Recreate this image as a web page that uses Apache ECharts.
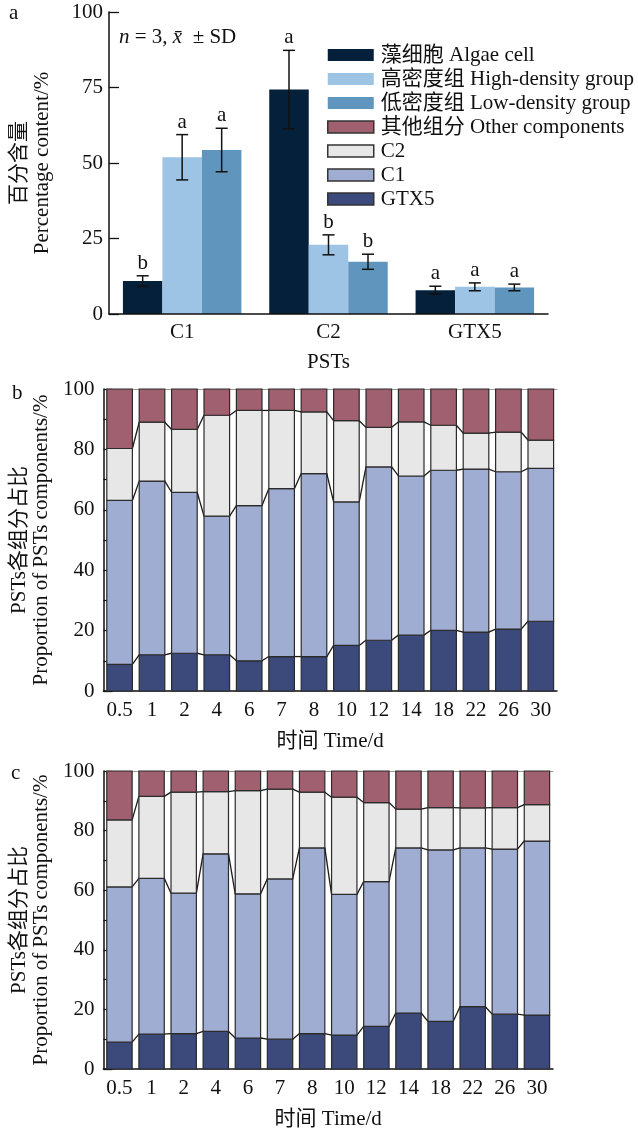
<!DOCTYPE html>
<html>
<head>
<meta charset="utf-8">
<script src="https://cdn.jsdelivr.net/npm/echarts@6/dist/echarts.min.js"></script>
<style>html,body{margin:0;padding:0;background:#fff;}#main{width:638px;height:1131px;}</style>
</head>
<body>
<div id="main"></div>
<script>
// ---------- Panel a data ----------
const pstCategories = ['C1', 'C2', 'GTX5'];
const algaeMean = [10.9, 74.3, 7.9];
const algaeSD = [1.75, 13.0, 1.3];
const algaeLetters = ['b', 'a', 'a'];
const highMean = [51.9, 22.9, 9.0];
const highSD = [7.5, 3.3, 1.3];
const highLetters = ['a', 'b', 'a'];
const lowMean = [54.3, 17.3, 8.8];
const lowSD = [7.2, 2.5, 1.1];
const lowLetters = ['a', 'b', 'a'];

// ---------- Panel b / c data ----------
const timeLabels = ['0.5', '1', '2', '4', '6', '7', '8', '10', '12', '14', '18', '22', '26', '30'];
const bGTX5 = [8.8, 12.0, 12.5, 12.0, 10.0, 11.4, 11.4, 15.1, 16.8, 18.5, 20.1, 19.5, 20.5, 23.1];
const bC1 = [54.3, 57.5, 53.3, 45.9, 51.4, 55.6, 60.6, 47.5, 57.4, 52.7, 53.0, 54.0, 52.1, 50.6];
const bC2 = [17.2, 19.5, 20.8, 33.4, 31.5, 25.9, 20.4, 26.9, 13.1, 17.9, 14.9, 11.9, 13.1, 9.4];
const bOther = [19.7, 11.0, 13.4, 8.7, 7.1, 7.1, 7.6, 10.5, 12.7, 10.9, 12.0, 14.6, 14.3, 16.9];

const cGTX5 = [9.0, 11.7, 11.9, 12.6, 10.4, 10.0, 11.9, 11.4, 14.3, 18.8, 16.0, 20.9, 18.4, 18.1];
const cC1 = [52.1, 52.3, 47.1, 59.6, 48.4, 53.8, 62.3, 47.2, 48.6, 55.4, 57.5, 53.3, 55.4, 58.4];
const cC2 = [22.5, 27.5, 33.9, 20.9, 34.6, 30.1, 18.7, 32.6, 26.5, 13.0, 14.2, 13.4, 13.9, 12.2];
const cOther = [16.4, 8.5, 7.1, 6.9, 6.6, 6.1, 7.1, 8.8, 10.6, 12.8, 12.3, 12.4, 12.3, 11.3];

const nameAlgae = '藻细胞 Algae cell';
const nameHigh = '高密度组 High-density group';
const nameLow = '低密度组 Low-density group';
const nameOther = '其他组分 Other components';
const nameC2 = 'C2';
const nameC1 = 'C1';
const nameGTX5 = 'GTX5';

const COL = {
  algae: '#04203b', high: '#9dc3e5', low: '#6096bd',
  other: '#a1606f', c2: '#e7e7e7', c1: '#a0add2', gtx5: '#3b497b'
};
const FONT = '"Liberation Serif", "Noto Sans CJK SC", serif';
const FS = 21;
const BORDER = '#2b2b2b';

const chart = echarts.init(document.getElementById('main'), null, {renderer: 'canvas'});

// ---------- helpers ----------
const BAR_W = 39.5;
function errorSeries(name, mean, sd, letters, offsetIndex) {
  return {
    type: 'custom', name: name + '_err', xAxisIndex: 0, yAxisIndex: 0, z: 6,
    legendHoverLink: false, silent: true,
    data: mean.map((m, i) => [i, m, sd[i]]),
    encode: {x: 0, y: 1},
    renderItem: function (params, api) {
      const c = api.value(0), m = api.value(1), s = api.value(2);
      const pt = api.coord([c, m + s]);
      const pb = api.coord([c, m - s]);
      const x = pt[0] + offsetIndex * BAR_W;
      const cap = 6;
      const st = {stroke: '#111', lineWidth: 1.5};
      return {
        type: 'group', children: [
          {type: 'line', shape: {x1: x, y1: pt[1], x2: x, y2: pb[1]}, style: st},
          {type: 'line', shape: {x1: x - cap, y1: pt[1], x2: x + cap, y2: pt[1]}, style: st},
          {type: 'line', shape: {x1: x - cap, y1: pb[1], x2: x + cap, y2: pb[1]}, style: st},
          {type: 'text', style: {text: letters[params.dataIndex], x: x, y: pt[1] - 2,
            align: 'center', verticalAlign: 'bottom', fill: '#111',
            font: FS + 'px ' + FONT}}
        ]
      };
    }
  };
}

function stackSeries(name, color, values, basesFrom, xIdx, yIdx, connector) {
  const n = values.length;
  const data = values.map((v, i) => {
    const base = basesFrom.reduce((acc, arr) => acc + arr[i], 0);
    const top = base + v;
    let nextTop = top;
    if (i < n - 1) nextTop = basesFrom.reduce((acc, arr) => acc + arr[i + 1], 0) + values[i + 1];
    return [i, base, top, nextTop];
  });
  return {
    type: 'custom', name: name, xAxisIndex: xIdx, yAxisIndex: yIdx,
    itemStyle: {color: color, borderColor: BORDER, borderWidth: 1.2},
    data: data, encode: {x: 0, y: [1, 2]},
    renderItem: function (params, api) {
      const i = api.value(0), base = api.value(1), top = api.value(2), next = api.value(3);
      const p0 = api.coord([i, base]);
      const p1 = api.coord([i, top]);
      const bw = api.size([1, 0])[0] * 0.79;
      const children = [{
        type: 'rect',
        shape: {x: p0[0] - bw / 2, y: p1[1], width: bw, height: p0[1] - p1[1]},
        style: {fill: color, stroke: BORDER, lineWidth: 1.2}
      }];
      if (connector && i < n - 1) {
        const q = api.coord([i + 1, next]);
        children.push({
          type: 'line',
          shape: {x1: p1[0] + bw / 2, y1: p1[1], x2: q[0] - bw / 2, y2: q[1]},
          style: {stroke: '#1a1a1a', lineWidth: 1.3}
        });
      }
      return {type: 'group', children: children};
    }
  };
}

function stackedPanel(gtx5, c1, c2, other, xIdx, yIdx) {
  return [
    stackSeries(nameGTX5, COL.gtx5, gtx5, [], xIdx, yIdx, true),
    stackSeries(nameC1, COL.c1, c1, [gtx5], xIdx, yIdx, true),
    stackSeries(nameC2, COL.c2, c2, [gtx5, c1], xIdx, yIdx, true),
    stackSeries(nameOther, COL.other, other, [gtx5, c1, c2], xIdx, yIdx, false)
  ];
}

const axisLineStyle = {color: '#111', width: 1.5};
const labelStyle = {fontFamily: FONT, fontSize: FS, color: '#111'};

function timeXAxis(gridIndex) {
  return {
    type: 'category', gridIndex: gridIndex, data: timeLabels,
    axisLine: {lineStyle: axisLineStyle},
    axisTick: {inside: true, length: 4, interval: 0, lineStyle: {color: '#333', width: 1}},
    axisLabel: Object.assign({margin: 9, interval: 0}, labelStyle),
    name: '时间 Time/d', nameLocation: 'middle', nameGap: 40,
    nameTextStyle: labelStyle
  };
}
function topXAxis(gridIndex) {
  return {
    type: 'category', gridIndex: gridIndex, data: timeLabels, position: 'top',
    axisLine: {lineStyle: {color: '#9a9a9a', width: 1}},
    axisTick: {show: false}, axisLabel: {show: false}
  };
}
function pctYAxis(gridIndex, gap) {
  return {
    type: 'value', gridIndex: gridIndex, min: 0, max: 100, interval: 20,
    axisLine: {show: true, lineStyle: axisLineStyle},
    axisTick: {show: true, inside: true, length: 9, lineStyle: {color: '#111', width: 1.3}},
    minorTick: {show: true, splitNumber: 2, length: 4, lineStyle: {color: '#111', width: 1.2}},
    splitLine: {show: false},
    axisLabel: Object.assign({margin: 9}, labelStyle),
    name: 'PSTs各组分占比\nProportion of PSTs components/%',
    nameLocation: 'middle', nameRotate: 90, nameGap: gap,
    nameTextStyle: Object.assign({lineHeight: 22}, labelStyle)
  };
}

const option = {
  backgroundColor: '#fff',
  animation: false,
  textStyle: {fontFamily: FONT},
  grid: [
    {left: 106, top: 12, width: 442, height: 302},
    {left: 102, top: 389, width: 455, height: 302},
    {left: 98, top: 771, width: 455, height: 302}
  ],
  legend: {
    orient: 'vertical', left: 322, top: 38, itemWidth: 46, itemHeight: 12, itemGap: 0,
    selectedMode: false,
    textStyle: {fontFamily: FONT, fontSize: FS, color: '#111', lineHeight: 24, padding: [0, 0, 0, 2]},
    data: [
      {name: nameAlgae, icon: 'rect', itemStyle: {color: COL.algae, borderWidth: 0}},
      {name: nameHigh, icon: 'rect', itemStyle: {color: COL.high, borderWidth: 0}},
      {name: nameLow, icon: 'rect', itemStyle: {color: COL.low, borderWidth: 0}},
      {name: nameOther, icon: 'rect', itemStyle: {color: COL.other, borderColor: '#333', borderWidth: 1.5}},
      {name: nameC2, icon: 'rect', itemStyle: {color: COL.c2, borderColor: '#333', borderWidth: 1.5}},
      {name: nameC1, icon: 'rect', itemStyle: {color: COL.c1, borderColor: '#333', borderWidth: 1.5}},
      {name: nameGTX5, icon: 'rect', itemStyle: {color: COL.gtx5, borderColor: '#333', borderWidth: 1.5}}
    ]
  },
  xAxis: [
    {
      type: 'category', gridIndex: 0, data: pstCategories, z: 10,
      axisLine: {lineStyle: axisLineStyle},
      axisTick: {inside: true, alignWithLabel: true, length: 9, lineStyle: {color: '#111', width: 1.3}},
      axisLabel: Object.assign({margin: 8, interval: 0}, labelStyle),
      name: 'PSTs', nameLocation: 'middle', nameGap: 38, nameTextStyle: labelStyle
    },
    timeXAxis(1), topXAxis(1), timeXAxis(2), topXAxis(2)
  ],
  yAxis: [
    {
      type: 'value', gridIndex: 0, min: 0, max: 100, interval: 25,
      axisLine: {show: true, lineStyle: axisLineStyle},
      axisTick: {show: true, inside: true, length: 10, lineStyle: {color: '#111', width: 1.3}},
      splitLine: {show: false},
      axisLabel: Object.assign({margin: 6}, labelStyle),
      name: '百分含量\nPercentage content/%', nameLocation: 'middle', nameRotate: 90, nameGap: 55,
      nameTextStyle: Object.assign({lineHeight: 23}, labelStyle)
    },
    pctYAxis(1, 50),
    pctYAxis(2, 48)
  ],
  graphic: [
    {type: 'text', left: 9, top: 3, style: {text: 'a', font: FS + 'px ' + FONT, fill: '#111'}},
    {type: 'text', left: 12, top: 383, style: {text: 'b', font: FS + 'px ' + FONT, fill: '#111'}},
    {type: 'text', left: 11, top: 763, style: {text: 'c', font: FS + 'px ' + FONT, fill: '#111'}},
    {type: 'text', left: 119, top: 27, style: {
      text: '{i|n} = 3, {i|x̄}  ± SD', font: FS + 'px ' + FONT, fill: '#111',
      rich: {i: {fontStyle: 'italic', fontFamily: '"Liberation Serif", serif', fontSize: FS}}
    }}
  ],
  series: [
    {type: 'bar', name: nameAlgae, xAxisIndex: 0, yAxisIndex: 0, data: algaeMean, barWidth: BAR_W, barGap: '0%', itemStyle: {color: COL.algae}},
    {type: 'bar', name: nameHigh, xAxisIndex: 0, yAxisIndex: 0, data: highMean, barWidth: BAR_W, barGap: '0%', itemStyle: {color: COL.high}},
    {type: 'bar', name: nameLow, xAxisIndex: 0, yAxisIndex: 0, data: lowMean, barWidth: BAR_W, barGap: '0%', itemStyle: {color: COL.low}},
    errorSeries(nameAlgae, algaeMean, algaeSD, algaeLetters, -1),
    errorSeries(nameHigh, highMean, highSD, highLetters, 0),
    errorSeries(nameLow, lowMean, lowSD, lowLetters, 1)
  ].concat(stackedPanel(bGTX5, bC1, bC2, bOther, 1, 1))
   .concat(stackedPanel(cGTX5, cC1, cC2, cOther, 3, 2))
};
chart.setOption(option);
</script>
</body>
</html>
